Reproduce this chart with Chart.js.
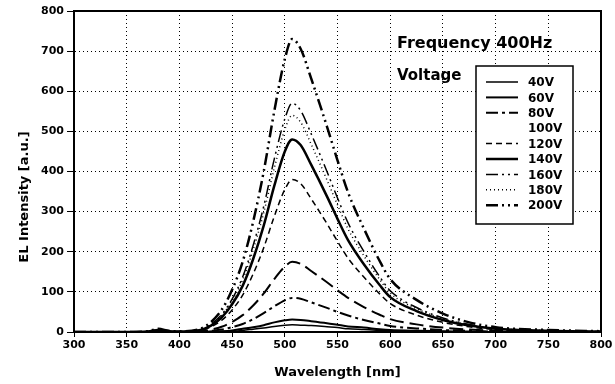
<!DOCTYPE html>
<html>
<head>
<meta charset="utf-8">
<script src="https://cdn.jsdelivr.net/npm/chart.js@4.4.1/dist/chart.umd.min.js"></script>
<style>
  html, body { margin: 0; padding: 0; background: #fff; }
  #chart { display: block; }
</style>
</head>
<body>
<canvas id="chart" width="615" height="384"></canvas>
<script>
// wavelength points (nm)
const wavelengths = [300, 350, 370, 380, 390, 400, 420, 430, 440, 450, 460, 470, 480, 490, 500, 507, 515, 525, 540, 550, 560, 575, 590, 600, 625, 650, 675, 700, 750, 800];

// EL intensity per voltage [a.u.]
const v40  = [0, 0, 0, 1, 0, 0, 0, 1, 1, 2, 4, 7, 10, 14, 17, 18, 17, 16, 13, 11, 8, 6, 4, 3, 2, 1, 0, 0, 0, 0];
const v60  = [0, 0, 0, 1, 0, 0, 0, 1, 2, 4, 8, 12, 17, 24, 29, 31, 30, 27, 22, 18, 14, 11, 7, 5, 3, 2, 1, 0, 0, 0];
const v80  = [0, 0, 0, 2, 0, 0, 1, 3, 6, 12, 20, 32, 47, 64, 79, 85, 83, 74, 60, 50, 41, 30, 21, 15, 9, 5, 3, 1, 0, 0];
const v100 = [0, 0, 0, 3, 1, 0, 2, 6, 13, 25, 42, 66, 96, 132, 163, 175, 170, 152, 124, 104, 85, 62, 43, 32, 19, 11, 6, 3, 1, 0];
const v120 = [0, 0, 1, 4, 1, 1, 4, 13, 29, 55, 92, 145, 210, 288, 355, 380, 370, 332, 270, 226, 184, 137, 95, 71, 42, 24, 13, 6, 3, 1];
const v140 = [0, 0, 1, 5, 2, 1, 5, 16, 36, 69, 115, 182, 265, 364, 450, 480, 466, 417, 338, 282, 229, 169, 117, 87, 52, 30, 16, 8, 3, 1];
const v160 = [0, 0, 1, 6, 2, 1, 6, 20, 43, 82, 137, 216, 313, 431, 531, 570, 552, 494, 400, 334, 272, 201, 138, 103, 61, 35, 19, 9, 4, 1];
const v180 = [0, 0, 1, 6, 2, 1, 6, 18, 41, 78, 130, 205, 297, 408, 504, 540, 523, 468, 379, 317, 257, 190, 131, 97, 58, 33, 18, 9, 4, 1];
const v200 = [0, 0, 2, 8, 3, 2, 8, 25, 55, 105, 175, 275, 400, 550, 680, 730, 706, 632, 512, 428, 348, 258, 177, 132, 80, 46, 24, 12, 5, 2];

const voltageLabels = ['40V', '60V', '80V', '100V', '120V', '140V', '160V', '180V', '200V'];
const xTicks = [300, 350, 400, 450, 500, 550, 600, 650, 700, 750, 800];
const yTicks = [0, 100, 200, 300, 400, 500, 600, 700, 800];

const series = [v40, v60, v80, v100, v120, v140, v160, v180, v200];
const styles = [
  { width: 1.5, dash: [] },
  { width: 2, dash: [] },
  { width: 2, dash: [12, 4, 3, 4] },
  { width: 2, dash: [14, 6] },
  { width: 1.5, dash: [6, 4] },
  { width: 2.5, dash: [] },
  { width: 1.5, dash: [12, 4, 2, 4, 2, 4] },
  { width: 1.5, dash: [1, 3] },
  { width: 2.5, dash: [12, 4, 2, 4, 2, 4] },
];

const FONT = '"DejaVu Sans", Arial, sans-serif';

const datasets = series.map((vals, i) => ({
  label: voltageLabels[i],
  data: vals.map((v, j) => ({ x: wavelengths[j], y: v })),
  borderColor: '#000',
  borderWidth: styles[i].width,
  borderDash: styles[i].dash,
  pointRadius: 0,
  tension: 0.4,
  cubicInterpolationMode: 'monotone',
  fill: false,
}));

const decorations = {
  id: 'decorations',
  afterDraw(chart) {
    const ctx = chart.ctx;
    const a = chart.chartArea;
    ctx.save();

    // frame
    ctx.strokeStyle = '#000';
    ctx.lineWidth = 2;
    ctx.setLineDash([]);
    ctx.strokeRect(a.left, a.top, a.right - a.left, a.bottom - a.top);

    // annotation text
    ctx.fillStyle = '#000';
    ctx.textAlign = 'left';
    ctx.textBaseline = 'alphabetic';
    ctx.font = 'bold 16px ' + FONT;
    ctx.fillText('Frequency 400Hz', 397, 48);
    ctx.font = 'bold 15px ' + FONT;
    ctx.fillText('Voltage', 397, 80);

    // legend box
    const bx = 476, by = 66, bw = 97, bh = 158;
    ctx.fillStyle = '#fff';
    ctx.fillRect(bx, by, bw, bh);
    ctx.strokeStyle = '#000';
    ctx.lineWidth = 1.5;
    ctx.strokeRect(bx, by, bw, bh);

    ctx.font = 'bold 12px ' + FONT;
    ctx.textBaseline = 'middle';
    chart.data.datasets.forEach((ds, i) => {
      const y = 82 + i * 15.4;
      if (ds.label !== '100V') {
        ctx.beginPath();
        ctx.strokeStyle = '#000';
        ctx.lineWidth = ds.borderWidth;
        ctx.setLineDash(ds.borderDash);
        ctx.moveTo(486, y);
        ctx.lineTo(518, y);
        ctx.stroke();
      }
      ctx.setLineDash([]);
      ctx.fillStyle = '#000';
      ctx.fillText(ds.label, 528, y + 1);
    });

    // axis titles
    ctx.font = 'bold 13px ' + FONT;
    ctx.textAlign = 'center';
    ctx.textBaseline = 'middle';
    ctx.fillText('Wavelength [nm]', (a.left + a.right) / 2, 373);
    ctx.translate(25, 197);
    ctx.rotate(-Math.PI / 2);
    ctx.fillText('EL Intensity [a.u.]', 0, 0);
    ctx.restore();
  }
};

new Chart(document.getElementById('chart'), {
  type: 'line',
  data: { datasets },
  options: {
    responsive: false,
    animation: false,
    devicePixelRatio: 1,
    layout: { padding: { left: 0, right: 14, top: 11, bottom: 0 } },
    plugins: {
      legend: { display: false },
      tooltip: { enabled: false },
    },
    scales: {
      x: {
        type: 'linear',
        min: 300,
        max: 800,
        afterBuildTicks: (s) => { s.ticks = xTicks.map((v) => ({ value: v })); },
        afterFit: (s) => { s.height = 52; },
        ticks: { color: '#000', font: { family: FONT, size: 11, weight: 'bold' }, padding: 2, maxRotation: 0 },
        grid: { color: '#000', lineWidth: 1, tickLength: 5, tickColor: '#000', tickBorderDash: [] },
        border: { display: true, color: '#000', width: 2, dash: [1, 3] },
      },
      y: {
        type: 'linear',
        min: 0,
        max: 800,
        afterBuildTicks: (s) => { s.ticks = yTicks.map((v) => ({ value: v })); },
        afterFit: (s) => { s.width = 74; },
        ticks: { color: '#000', font: { family: FONT, size: 11, weight: 'bold' }, padding: 3 },
        grid: { color: '#000', lineWidth: 1, tickLength: 7, tickColor: '#000', tickBorderDash: [] },
        border: { display: true, color: '#000', width: 2, dash: [1, 3] },
      },
    },
  },
  plugins: [decorations],
});
</script>
</body>
</html>
